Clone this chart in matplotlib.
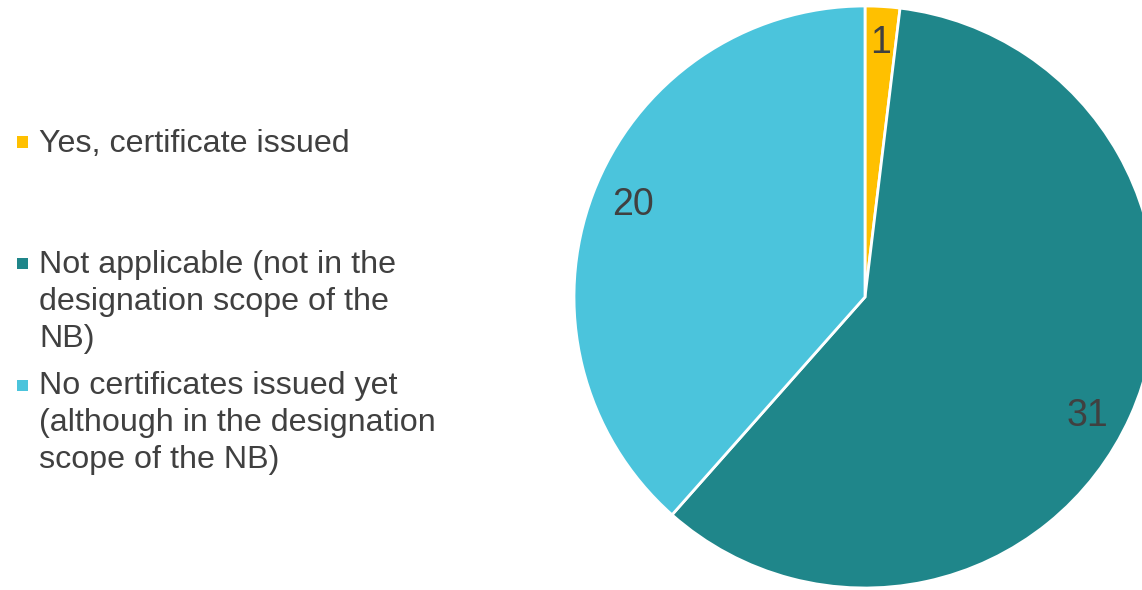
import matplotlib
matplotlib.use("Agg")
import matplotlib.pyplot as plt
from matplotlib.patches import Rectangle

plt.rcParams['font.family'] = ['Liberation Sans', 'DejaVu Sans']

labels = ["Yes, certificate issued",
          "Not applicable (not in the\ndesignation scope of the\nNB)",
          "No certificates issued yet\n(although in the designation\nscope of the NB)"]
counts = [1, 31, 20]
colors = ["#FFC000", "#1F868A", "#4BC4DC"]
# data label positions inside the slices (axes data units, radius = 1)
label_pos = [(0.052, 0.873), (0.766, -0.408), (-0.797, 0.316)]

W, H = 1142, 590
fig = plt.figure(figsize=(W / 100, H / 100), dpi=100)

# pie: centre (865, 297) px, radius 291 px
cx, cy, r = 865, 297, 291
ax = fig.add_axes([(cx - r) / W, (H - cy - r) / H, 2 * r / W, 2 * r / H])
wedges, texts = ax.pie(counts, colors=colors, startangle=90, counterclock=False,
                       labels=[str(c) for c in counts], labeldistance=0.87,
                       wedgeprops=dict(edgecolor="white", linewidth=2),
                       textprops=dict(fontsize=27, color="#404040"))
for w in wedges:
    w.set_clip_on(False)
for t, pos in zip(texts, label_pos):
    t.set_position(pos)
    t.set_ha("center")
    t.set_va("center")
ax.set_xlim(-1, 1)
ax.set_ylim(-1, 1)
ax.set_aspect("equal")
ax.axis("off")

# legend drawn by hand on the left
row_tops = [129, 250, 371]
row_mid = [142, 263, 385]
sq = 11
for lab, col, top, mid in zip(labels, colors, row_tops, row_mid):
    fig.patches.append(Rectangle((17 / W, (H - mid - sq / 2) / H), sq / W, sq / H,
                                 transform=fig.transFigure, facecolor=col,
                                 edgecolor="none"))
    fig.text(39 / W, (H - top) / H, lab, ha="left", va="top", fontsize=23.2,
             color="#404040", linespacing=1.3)

fig.savefig("out.png", dpi=100)
